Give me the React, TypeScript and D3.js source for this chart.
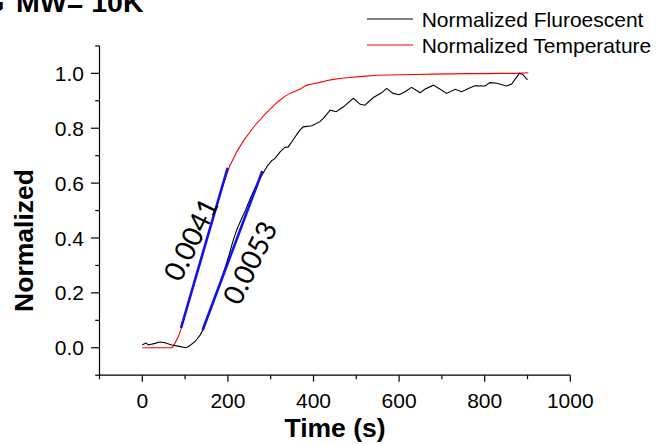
import React from "react";
import * as d3 from "d3";

const W = 661;
const H = 444;

// Normalized fluorescence (black)
const fluoTime = [0, 8.6, 14, 29.7, 41.4, 53, 68.7, 84, 101, 107.5, 123, 135, 142.5, 150, 165, 180, 192, 203, 213, 222, 232, 242, 252, 263, 275, 292, 302, 310, 322, 333, 341, 353, 367, 376, 396, 415, 423, 439, 453, 470, 493, 509, 520, 540, 559, 571, 586, 600, 614, 629, 649, 660, 680, 696, 711, 731, 746, 762, 777, 801, 812, 828, 851, 863, 881, 889, 900];
const fluoValue = [0.01, 0.018, 0.01, 0.016, 0.021, 0.018, 0.01, 0.006, 0.0, 0.004, 0.022, 0.046, 0.067, 0.10, 0.162, 0.228, 0.285, 0.34, 0.395, 0.435, 0.47, 0.505, 0.543, 0.581, 0.617, 0.662, 0.681, 0.69, 0.714, 0.73, 0.732, 0.759, 0.791, 0.805, 0.809, 0.824, 0.836, 0.866, 0.86, 0.878, 0.909, 0.887, 0.884, 0.912, 0.929, 0.945, 0.927, 0.922, 0.933, 0.949, 0.929, 0.942, 0.957, 0.942, 0.927, 0.942, 0.933, 0.945, 0.955, 0.954, 0.966, 0.964, 0.954, 0.961, 1.0, 0.996, 0.976];

// Normalized temperature (red)
const tempTime = [0, 20, 40, 60, 70, 76, 84, 90, 100, 110, 120, 130, 140, 150, 160, 170, 180, 190, 197, 205, 213, 220, 228, 240, 252, 263, 275, 287, 298, 310, 322, 333, 345, 357, 368, 384, 400, 415, 430, 446, 465, 485, 515, 548, 575, 602, 640, 680, 720, 758, 800, 836, 870, 902];
const tempValue = [0, 0, 0, 0, 0, 0.016, 0.04, 0.065, 0.12, 0.175, 0.23, 0.285, 0.34, 0.395, 0.447, 0.498, 0.548, 0.598, 0.632, 0.665, 0.69, 0.712, 0.733, 0.762, 0.787, 0.81, 0.83, 0.851, 0.869, 0.887, 0.903, 0.916, 0.927, 0.935, 0.942, 0.957, 0.962, 0.967, 0.973, 0.978, 0.982, 0.985, 0.989, 0.993, 0.994, 0.995, 0.996, 0.997, 0.998, 0.999, 0.999, 1.0, 1.0, 1.002];

// Linear fits (blue)
const fitX0 = [90.4, 141];
const fitY0 = [0.072, 0.0645];
const fitX1 = [199.5, 280.4];
const fitY1 = [0.656, 0.644];
const fitLabels = ["0.0041", "0.0053"];
const fitLabelX = [111.4, 249.3];
const fitLabelY = [0.396, 0.311];

const xMajor = [0, 200, 400, 600, 800, 1000];
const xMinor = [-100, 100, 300, 500, 700, 900];
const yMajor = [0.0, 0.2, 0.4, 0.6, 0.8, 1.0];
const yMinor = [-0.1, 0.1, 0.3, 0.5, 0.7, 0.9, 1.1];

const legendLabels = ["Normalized Fluroescent", "Normalized Temperature"];
const legendColors = ["#000000", "#ff0000"];

const title = "MW= 10K";
const xTitle = "Time (s)";
const yTitle = "Normalized";

const ARIAL = "'Liberation Sans', Arial, sans-serif";

export default function App() {
  const x = d3.scaleLinear().domain([-100, 1000]).range([99.5, 570.3]);
  const y = d3.scaleLinear().domain([-0.1, 1.1]).range([375.2, 45.9]);

  const fluo = fluoTime.map((t, i) => [t, fluoValue[i]] as [number, number]);
  const temp = tempTime.map((t, i) => [t, tempValue[i]] as [number, number]);
  const line = d3
    .line<[number, number]>()
    .x((d) => x(d[0]))
    .y((d) => y(d[1]));

  const x0 = x(-100);
  const y0 = y(-0.1);

  return (
    <svg
      width={W}
      height={H}
      style={{ position: "fixed", left: 0, top: 0, background: "#fff" }}
    >
      <rect x={0} y={0} width={W} height={H} fill="#fff" />
      {/* title (cropped at top) */}
      <text x={4.5} y={12} fontFamily={ARIAL} fontWeight="bold" fontSize={28.5} textAnchor="end">
        G
      </text>
      <text x={16} y={12} fontFamily={ARIAL} fontWeight="bold" fontSize={28.5}>
        {title}
      </text>

      {/* data */}
      <path d={line(temp) || ""} fill="none" stroke="#ff0000" strokeWidth={1.1} />
      <path d={line(fluo) || ""} fill="none" stroke="#000" strokeWidth={1.1} />
      {fitX0.map((fx, i) => (
        <line
          key={"fit" + i}
          x1={x(fx)}
          y1={y(fitY0[i])}
          x2={x(fitX1[i])}
          y2={y(fitY1[i])}
          stroke="#1010f0"
          strokeWidth={2.6}
        />
      ))}
      {fitLabels.map((lab, i) => (
        <text
          key={"fl" + i}
          transform={`translate(${x(fitLabelX[i])},${y(fitLabelY[i])}) rotate(-64)`}
          textAnchor="middle"
          dominantBaseline="central"
          fontFamily="Lato, 'Open Sans', sans-serif"
          fontSize={28}
        >
          {lab}
        </text>
      ))}

      {/* axes */}
      <line x1={x0} y1={y0} x2={x(1000)} y2={y0} stroke="#000" strokeWidth={1.2} />
      <line x1={x0} y1={y0} x2={x0} y2={y(1.1)} stroke="#000" strokeWidth={1.2} />
      {xMajor.map((v) => (
        <g key={"xM" + v}>
          <line x1={x(v)} x2={x(v)} y1={y0} y2={y0 + 6.5} stroke="#000" strokeWidth={1.2} />
          <text x={x(v)} y={408} textAnchor="middle" fontFamily={ARIAL} fontSize={21}>
            {v}
          </text>
        </g>
      ))}
      {xMinor.map((v) => (
        <line key={"xm" + v} x1={x(v)} x2={x(v)} y1={y0} y2={y0 + 4} stroke="#000" strokeWidth={1.2} />
      ))}
      {yMajor.map((v) => (
        <g key={"yM" + v}>
          <line x1={x0} x2={x0 - 8.5} y1={y(v)} y2={y(v)} stroke="#000" strokeWidth={1.2} />
          <text x={84} y={y(v) + 7.6} textAnchor="end" fontFamily={ARIAL} fontSize={21}>
            {v.toFixed(1)}
          </text>
        </g>
      ))}
      {yMinor.map((v) => (
        <line key={"ym" + v} x1={x0} x2={x0 - 4.3} y1={y(v)} y2={y(v)} stroke="#000" strokeWidth={1.2} />
      ))}

      <text x={335} y={437} textAnchor="middle" fontFamily={ARIAL} fontWeight="bold" fontSize={26.5}>
        {xTitle}
      </text>
      <text
        transform={`translate(33,240.5) rotate(-90)`}
        textAnchor="middle"
        fontFamily={ARIAL}
        fontWeight="bold"
        fontSize={26.5}
      >
        {yTitle}
      </text>

      {/* legend */}
      {legendLabels.map((lab, i) => (
        <g key={"lg" + i}>
          <line
            x1={367}
            x2={413}
            y1={19 + i * 26}
            y2={19 + i * 26}
            stroke={legendColors[i]}
            strokeWidth={1.1}
          />
          <text x={421.7} y={26.7 + i * 25.8} fontFamily={ARIAL} fontSize={21}>
            {lab}
          </text>
        </g>
      ))}
    </svg>
  );
}
